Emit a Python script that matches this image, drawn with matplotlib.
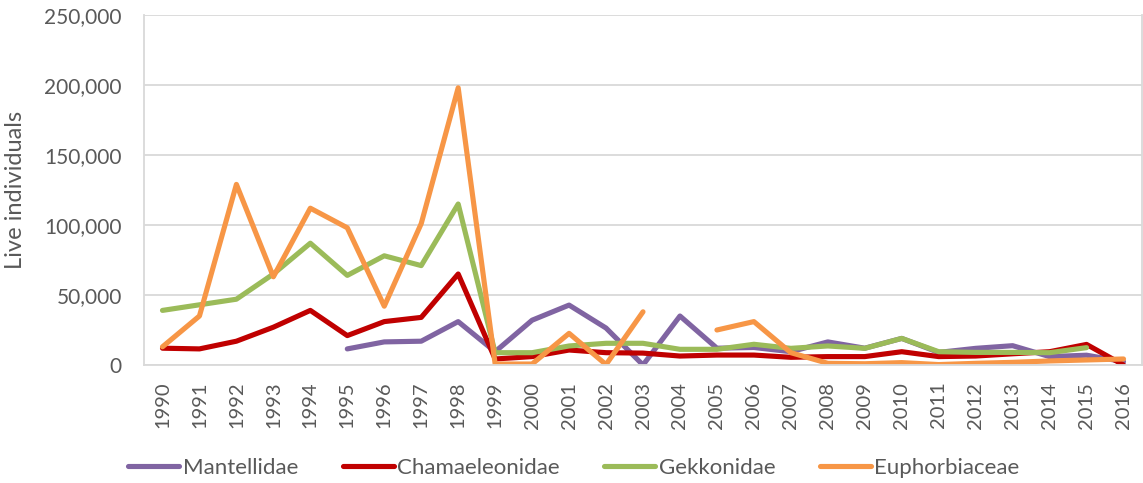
import matplotlib
matplotlib.use("Agg")
import matplotlib.pyplot as plt
from matplotlib.ticker import FuncFormatter
import numpy as np

nan = np.nan
years = [str(y) for y in range(1990, 2017)]

mantellidae = [nan, nan, nan, nan, nan, 11500, 16500, 17000, 31000, 9500,
               32000, 42800, 26400, 0, 35000, 12000, 12500, 9500, 16500, 12000,
               19000, 9000, 11900, 13800, 6000, 7000, 2400]
chamaeleonidae = [12000, 11500, 17000, 27000, 39000, 21000, 31000, 34000, 65000, 4300,
                  6000, 10700, 8800, 8500, 6400, 7100, 7100, 5500, 6000, 6000,
                  9500, 6000, 6400, 8000, 9500, 14700, 0]
gekkonidae = [39000, 43000, 47000, 65000, 87000, 64000, 78000, 71000, 115000, 8800,
              8800, 13600, 15500, 15500, 11200, 11200, 14800, 11900, 13600, 11900,
              19000, 9500, 9000, 9000, 8800, 12400, nan]
euphorbiaceae = [13000, 35000, 129000, 63000, 112000, 98000, 42000, 101000, 198000, 700,
                 700, 22600, 300, 38000, nan, 25000, 31000, 8800, 1200, 900,
                 1700, 300, 1200, 1900, 2900, 3600, 4300]

series = [("Mantellidae", mantellidae, "#8064A2"),
          ("Chamaeleonidae", chamaeleonidae, "#C00000"),
          ("Gekkonidae", gekkonidae, "#9BBB59"),
          ("Euphorbiaceae", euphorbiaceae, "#F79646")]

plt.rcParams['font.family'] = ['Lato', 'DejaVu Sans']

fig = plt.figure(figsize=(11.43, 4.83), dpi=100)
ax = fig.add_axes([144/1143, (483-365)/483, (1142-144)/1143, 350/483])

x = np.arange(len(years))
for name, vals, col in series:
    ax.plot(x, np.array(vals, dtype=float), color=col, lw=3.7, label=name,
            solid_capstyle='round', solid_joinstyle='round')

ax.set_xlim(-0.5, len(years) - 0.5)
ax.set_ylim(0, 250000)
ax.set_yticks(np.arange(0, 250001, 50000))
ax.yaxis.set_major_formatter(FuncFormatter(lambda v, p: f"{int(v):,}"))
ax.set_xticks(x)
ax.set_xticklabels(years, rotation=90)
ax.grid(axis='y', color='#D9D9D9', lw=1.3)
ax.set_axisbelow(True)
ax.spines['top'].set_visible(False)
for s in ['left', 'right', 'bottom']:
    ax.spines[s].set_color('#D9D9D9')
    ax.spines[s].set_linewidth(1.3)
ax.tick_params(axis='both', length=0, colors='#595959')
ax.tick_params(axis='y', labelsize=15, pad=16)
ax.tick_params(axis='x', labelsize=14.5, pad=12)
ax.set_ylabel("Live individuals", fontsize=17, color='#595959', labelpad=8)
ax.yaxis.set_label_coords(-118/998, 0.5)

leg = fig.legend(loc='center', bbox_to_anchor=(0.502, 1 - 468/483), ncol=4, frameon=False,
                 fontsize=16, handlelength=2.3, handletextpad=0.15, columnspacing=2.0,
                 labelcolor='#595959')
fig.savefig("out.png", dpi=100)
